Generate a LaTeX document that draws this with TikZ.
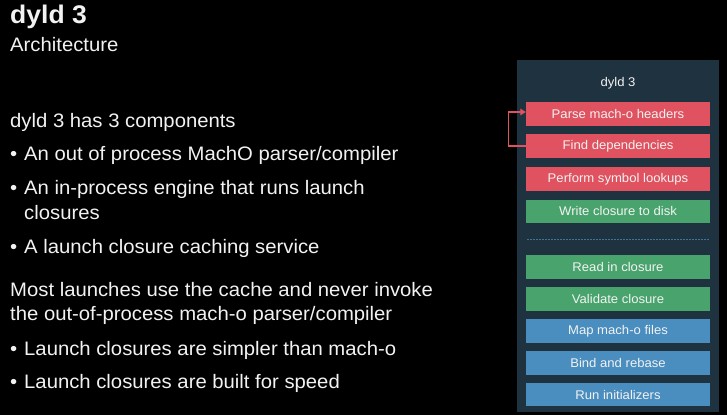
\documentclass[tikz,border=0pt]{standalone}
\usepackage{fontspec}
\setmainfont[FakeStretch=1.04]{Liberation Sans}
\usetikzlibrary{arrows.meta}
\definecolor{panelbg}{HTML}{1F3240}
\definecolor{boxred}{HTML}{E0525F}
\definecolor{boxgreen}{HTML}{48A46C}
\definecolor{boxblue}{HTML}{4A8DBF}
\definecolor{txt}{HTML}{F2F2F2}
\tikzset{
  body/.style={anchor=base west,text=txt,font=\fontsize{19.5}{23}\selectfont,inner sep=0pt},
  stepbox/.style={minimum width=184pt,minimum height=23.5pt,inner sep=0pt,text=txt,font=\fontsize{12.6}{15}\selectfont},
  redbox/.style={stepbox,fill=boxred},
  greenbox/.style={stepbox,fill=boxgreen},
  bluebox/.style={stepbox,fill=boxblue}
}
\begin{document}
\begin{tikzpicture}[x=1pt,y=-1pt]
\useasboundingbox[fill=black] (0,0) rectangle (727,415);
% left text
\node[body,font=\bfseries\fontsize{25.5}{30}\selectfont] (title) at (10,23) {dyld 3};
\node[body] (sub) at (10,51) {Architecture};
\node[body] (intro) at (10,127) {dyld 3 has 3 components};
\node[body] (b1d) at (10,160.7) {•};
\node[body] (b1) at (24,160.7) {An out of process MachO parser/compiler};
\node[body] (b2d) at (10,194) {•};
\node[body] (b2) at (24,194) {An in-process engine that runs launch};
\node[body] (b2b) at (24,219) {closures};
\node[body] (b3d) at (10,253) {•};
\node[body] (b3) at (24,253) {A launch closure caching service};
\node[body] (m1) at (10,296) {Most launches use the cache and never invoke};
\node[body] (m2) at (10,320) {the out-of-process mach-o parser/compiler};
\node[body] (b4d) at (10,355) {•};
\node[body] (b4) at (24,355) {Launch closures are simpler than mach-o};
\node[body] (b5d) at (10,388) {•};
\node[body] (b5) at (24,388) {Launch closures are built for speed};
% panel
\fill[panelbg] (517,60) rectangle (719,412);
\node[text=txt,font=\fontsize{12.6}{15}\selectfont] (ptitle) at (618,83) {dyld 3};
\node[redbox] (parse) at (618,114) {Parse mach-o headers};
\node[redbox] (find) at (618,146) {Find dependencies};
\node[redbox] (perf) at (618,179) {Perform symbol lookups};
\node[greenbox] (write) at (618,211.3) {Write closure to disk};
\coordinate (dl) at (527,239.5);
\coordinate (dr) at (710,239.5);
\draw[boxblue!70!panelbg,line width=0.5pt,dash pattern=on 1.5pt off 1.5pt] (dl) -- (dr);
\node[greenbox] (read) at (618,267.2) {Read in closure};
\node[greenbox] (valid) at (618,299) {Validate closure};
\node[bluebox] (map) at (618,330.8) {Map mach-o files};
\node[bluebox] (bind) at (618,362.8) {Bind and rebase};
\node[bluebox] (run) at (618,394.7) {Run initializers};
% loop arrow
\draw[boxred,line width=1.2pt,-{Triangle[length=5.5pt,width=6.5pt]}]
  (find.west) -- ++(-17.5,0) |- ([yshift=2pt]parse.west);
\end{tikzpicture}
\end{document}
